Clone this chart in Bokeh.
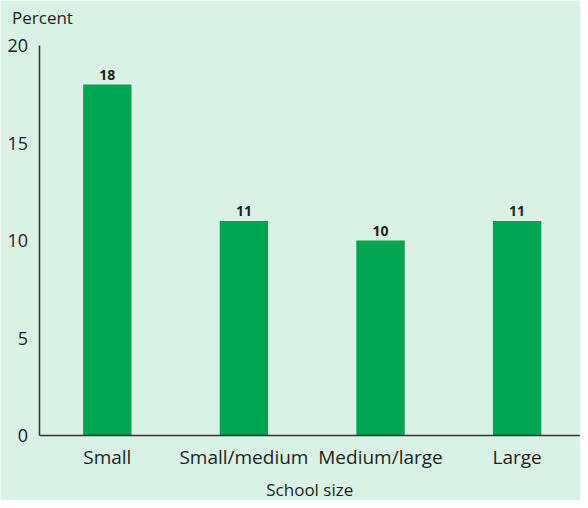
from bokeh.plotting import figure
from bokeh.models import ColumnDataSource, FixedTicker, Range1d, Label
from bokeh.core.properties import value
from bokeh.embed import file_html
from bokeh.resources import INLINE

categories = ["Small", "Small/medium", "Medium/large", "Large"]
percents = [18, 11, 10, 11]
y_ticks = [0, 5, 10, 15, 20]
x_title = "School size"
y_title = "Percent"

BG = "#daf1e5"
GREEN = "#00a651"
TXT = "#231f20"
FONT = "Open Sans"

xs = list(range(len(categories)))
src = ColumnDataSource(dict(x=xs, top=percents, lab=[str(v) for v in percents]))

X_LO, X_HI = -0.5, 3.464

p = figure(width=580, height=500, output_backend="svg", toolbar_location=None,
           x_range=Range1d(-0.782, X_HI), y_range=Range1d(-3.333, 22.308),
           min_border_left=0, min_border_right=0, min_border_top=0, min_border_bottom=0)
p.background_fill_color = BG
p.border_fill_color = BG
p.outline_line_color = None
p.grid.visible = False

p.vbar(x="x", top="top", width=0.354, bottom=0, source=src, fill_color=GREEN, line_color=None)
p.text(x="x", y="top", text="lab", source=src, text_align="center", text_baseline="bottom",
       y_offset=-5, text_font=value(FONT), text_font_style="bold", text_font_size="14px",
       text_color=TXT)

for ax in (p.xaxis, p.yaxis):
    ax.axis_line_color = "#333333"
    ax.axis_line_width = 1.5
    ax.major_tick_line_color = None
    ax.minor_tick_line_color = None
    ax.major_label_text_font = FONT
    ax.major_label_text_color = TXT

p.yaxis.fixed_location = X_LO
p.yaxis.bounds = (0, 20)
p.yaxis.major_label_text_font_size = "18px"
p.yaxis.ticker = FixedTicker(ticks=y_ticks)
p.yaxis.major_label_standoff = 5

p.xaxis.fixed_location = 0
p.xaxis.bounds = (X_LO, X_HI)
p.xaxis.major_label_text_font_size = "19px"
p.xaxis.ticker = FixedTicker(ticks=xs)
p.xaxis.major_label_overrides = {i: c for i, c in enumerate(categories)}
p.xaxis.major_label_standoff = 2

p.add_layout(Label(x=(X_LO + X_HI) / 2, y=0, y_offset=-54, text=x_title,
                   text_baseline="middle", text_align="center", text_font=FONT,
                   text_font_size="17px", text_color=TXT))
p.add_layout(Label(x=X_LO, y=20, x_offset=-27, y_offset=28, text=y_title,
                   text_baseline="middle", text_align="left", text_font=FONT,
                   text_font_size="17px", text_color=TXT))

open("out.html", "w").write(file_html(p, INLINE))
